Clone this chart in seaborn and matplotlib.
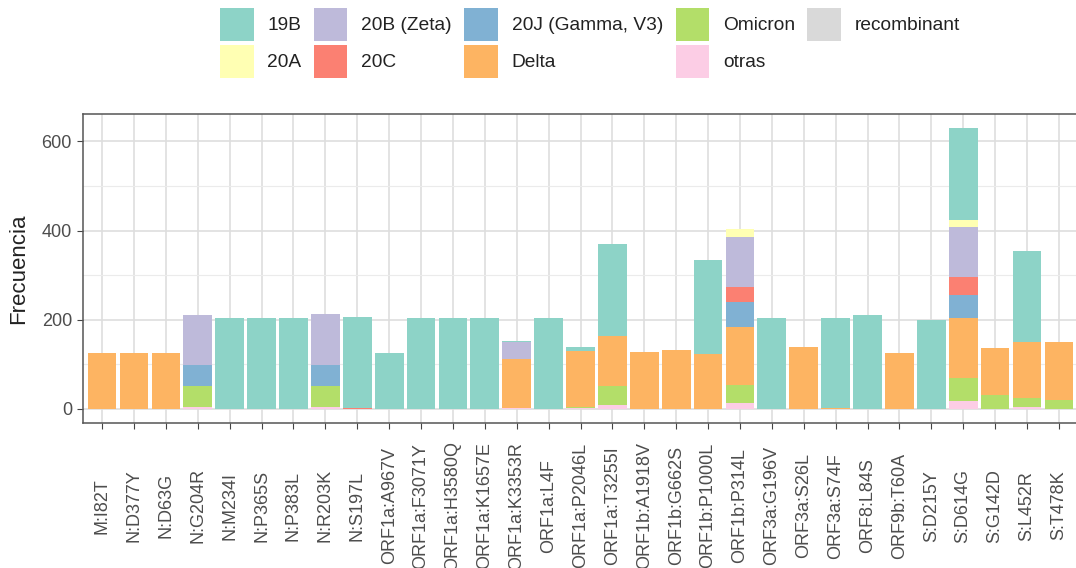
import numpy as np
import pandas as pd
import matplotlib
matplotlib.use("Agg")
import matplotlib.pyplot as plt
from matplotlib.patches import Patch
from matplotlib.ticker import MultipleLocator
import seaborn as sns

# Mutations (x axis categories)
mutations = [
    "M:I82T", "N:D377Y", "N:D63G", "N:G204R", "N:M234I", "N:P365S", "N:P383L",
    "N:R203K", "N:S197L", "ORF1a:A967V", "ORF1a:F3071Y", "ORF1a:H3580Q",
    "ORF1a:K1657E", "ORF1a:K3353R", "ORF1a:L4F", "ORF1a:P2046L", "ORF1a:T3255I",
    "ORF1b:A1918V", "ORF1b:G662S", "ORF1b:P1000L", "ORF1b:P314L", "ORF3a:G196V",
    "ORF3a:S26L", "ORF3a:S74F", "ORF8:L84S", "ORF9b:T60A", "S:D215Y", "S:D614G",
    "S:G142D", "S:L452R", "S:T478K",
]

# Lineages, in stacking order (first one on top)
lineages = ["19B", "20A", "20B (Zeta)", "20C", "20J (Gamma, V3)",
            "Delta", "Omicron", "otras", "recombinant"]

# Frequency of each mutation per lineage
n_19B = [0, 0, 0, 0, 205, 203, 203, 0, 204, 125, 203, 203, 203, 3, 203, 9,
         208, 0, 0, 211, 0, 205, 0, 203, 210, 0, 200, 207, 0, 204, 0]
n_20A = [0, 0, 0, 0, 0, 0, 0, 0, 0, 0, 0, 0, 0, 0, 0, 0,
         0, 0, 0, 0, 18, 0, 0, 0, 0, 0, 0, 15, 0, 0, 0]
n_20B = [0, 0, 0, 112, 0, 0, 0, 114, 0, 0, 0, 0, 0, 37, 0, 0,
         0, 0, 0, 0, 111, 0, 0, 0, 0, 0, 0, 113, 0, 0, 0]
n_20C = [0, 0, 0, 0, 0, 0, 0, 0, 2, 0, 0, 0, 0, 0, 0, 0,
         0, 0, 0, 0, 35, 0, 0, 0, 0, 0, 0, 39, 0, 0, 0]
n_20J = [0, 0, 0, 47, 0, 0, 0, 47, 0, 0, 0, 0, 0, 0, 0, 0,
         0, 0, 0, 0, 55, 0, 0, 0, 0, 0, 0, 53, 0, 0, 0]
n_delta = [125, 125, 125, 0, 0, 0, 0, 0, 0, 0, 0, 0, 0, 111, 0, 124,
           112, 127, 133, 123, 130, 0, 138, 2, 0, 125, 0, 134, 105, 125, 129]
n_omicron = [0, 0, 0, 46, 0, 0, 0, 46, 0, 0, 0, 0, 0, 0, 0, 2,
             42, 0, 0, 0, 41, 0, 0, 0, 0, 0, 0, 52, 31, 21, 21]
n_otras = [0, 0, 0, 5, 0, 0, 0, 5, 0, 0, 0, 0, 0, 2, 0, 3,
           9, 0, 0, 0, 13, 0, 0, 0, 0, 0, 0, 17, 0, 4, 0]
n_recombinant = [0] * len(mutations)

counts = [n_19B, n_20A, n_20B, n_20C, n_20J, n_delta, n_omicron, n_otras, n_recombinant]
colors = sns.color_palette("Set3", len(lineages))

rows = []
for i, mut in enumerate(mutations):
    for lin, vals in zip(lineages, counts):
        rows.append({"mutation": mut, "linaje": lin, "n": vals[i]})
df = pd.DataFrame(rows)

sns.set_theme(style="white")
plt.rcParams["font.family"] = ["Liberation Sans", "DejaVu Sans"]

fig = plt.figure(figsize=(10.76, 5.68), dpi=100)
W, H = 1076, 568
left, right, top, bottom = 83, 1078, 114, 423
ax = fig.add_axes([left / W, 1 - bottom / H, (right - left) / W, (bottom - top) / H])

sns.histplot(data=df, x="mutation", hue="linaje", weights="n",
             multiple="stack", discrete=True, shrink=0.9,
             hue_order=lineages, palette=colors, alpha=1,
             linewidth=0, edgecolor="none", legend=False, ax=ax)

totals = df.groupby("mutation")["n"].sum().max()
ax.set_xlim(-0.6, len(mutations) - 0.4)
ax.set_ylim(-0.05 * totals, 1.05 * totals)

ax.set_xticks(range(len(mutations)))
ax.set_xticklabels(mutations, rotation=90, ha="center", va="center")
ax.yaxis.set_major_locator(MultipleLocator(200))
ax.yaxis.set_minor_locator(MultipleLocator(100))

ax.set_axisbelow(True)
ax.grid(which="major", color="#DEDEDE", linewidth=1.2)
ax.grid(which="minor", axis="y", color="#EBEBEB", linewidth=0.8)

ax.tick_params(axis="x", which="major", length=4.5, width=0.8, color="#444444",
               pad=55, labelsize=13, labelcolor="#4D4D4D")
ax.tick_params(axis="y", which="major", length=4.5, width=0.8, color="#444444",
               pad=3.5, labelsize=13, labelcolor="#4D4D4D")
ax.tick_params(which="minor", length=0)
ax.tick_params(bottom=True, left=True)

for sp in ax.spines.values():
    sp.set_color("#555555")
    sp.set_linewidth(1.1)

ax.set_xlabel("")
ax.set_ylabel("Frecuencia", fontsize=16, color="#222222", labelpad=9)

handles = [Patch(facecolor=c, edgecolor="none") for c in colors]
fig.legend(handles, lineages, ncol=5, loc="upper left",
           bbox_to_anchor=(220 / W, 1 - 8 / H), frameon=False,
           fontsize=13.8, handlelength=1.75, handleheight=2.27,
           handletextpad=0.72, columnspacing=0.65, labelspacing=0.21,
           borderpad=0, borderaxespad=0, labelcolor="#222222")

fig.savefig("out.png", dpi=100)
